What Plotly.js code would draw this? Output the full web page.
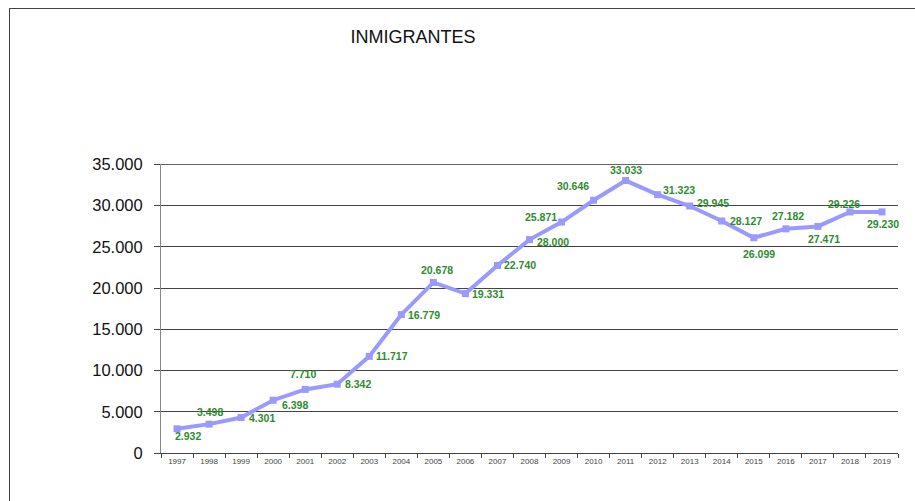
<!DOCTYPE html>
<html>
<head>
<meta charset="utf-8">
<script src="https://cdn.plot.ly/plotly-3.0.1.min.js"></script>
<style>
html,body{margin:0;padding:0;background:#fff;}
#wrap{position:relative;width:915px;height:501px;overflow:hidden;}
#chart{position:absolute;left:0;top:0;width:915px;height:501px;}
#frame{position:absolute;left:9px;top:8px;width:920px;height:510px;border-left:1px solid #444;border-top:1px solid #444;pointer-events:none;}
</style>
</head>
<body>
<div id="wrap"><div id="chart"></div><div id="frame"></div></div>
<script>
const years = ["1997","1998","1999","2000","2001","2002","2003","2004","2005","2006","2007","2008","2009","2010","2011","2012","2013","2014","2015","2016","2017","2018","2019"];
const inmigrantes = [2932,3498,4301,6398,7710,8342,11717,16779,20678,19331,22740,25871,28000,30646,33033,31323,29945,28127,26099,27182,27471,29226,29230];
const valueLabels = ["2.932","3.498","4.301","6.398","7.710","8.342","11.717","16.779","20.678","19.331","22.740","25.871","28.000","30.646","33.033","31.323","29.945","28.127","26.099","27.182","27.471","29.226","29.230"];
const yTicks = [0,5000,10000,15000,20000,25000,30000,35000];
// label offsets in pixels (right, down) relative to each point
const labelDx = [11,1,21,22,-2,21,23,23,4,23,23,11,-9,-21,0,21,23,24,5,2,6,-6,1];
const labelDy = [7,-12,0,5,-15,0,0,0,-12,0,0,-23,20,-14,-11,-5,-3,0,16,-13,13,-8,12];

const annotations = years.map((yr,i)=>({
  x: i, y: inmigrantes[i], xref:'x', yref:'y',
  text: valueLabels[i], showarrow:false,
  xshift: labelDx[i], yshift: -labelDy[i],
  xanchor:'center', yanchor:'middle',
  font:{family:'Liberation Sans, Arial, sans-serif', size:10.5, color:'#2e8b2e', weight:700}
}));

const trace = {
  x: years, y: inmigrantes, type:'scatter', mode:'lines+markers',
  line:{color:'#9999ff', width:4},
  marker:{symbol:'square', size:7, color:'#9999ff'},
  hoverinfo:'skip', cliponaxis:false
};

const layout = {
  width:915, height:501,
  margin:{l:161, r:17, t:164, b:48, pad:0},
  paper_bgcolor:'#fff', plot_bgcolor:'#fff',
  separators: ',.',
  showlegend:false,
  title:{text:'INMIGRANTES', x:413/915, xref:'container', xanchor:'center', y:1-37/501, yref:'container', yanchor:'middle',
    font:{family:'Liberation Sans, Arial, sans-serif', size:18, color:'#111'}},
  xaxis:{type:'category', range:[-0.5,22.5], tickson:'boundaries', ticks:'outside', ticklen:4,
    tickcolor:'#444', showline:true, linecolor:'#444', linewidth:1, showgrid:false, zeroline:false,
    tickfont:{family:'Liberation Sans, Arial, sans-serif', size:8, color:'#444'}, fixedrange:true},
  yaxis:{range:[0,35040], tickvals:yTicks, tickformat:',d', ticks:'outside', ticklen:6, tickcolor:'#444',
    showgrid:true, gridcolor:'#444', gridwidth:1, showline:true, linecolor:'#888', zeroline:false,
    tickfont:{family:'Liberation Sans, Arial, sans-serif', size:16.5, color:'#111'}, ticklabelstandoff:8, fixedrange:true},
  shapes:[{type:'line', xref:'paper', yref:'y', x0:0, x1:1, y0:35000, y1:35000, line:{color:'#444', width:1}, layer:'below'}],
  annotations: annotations
};
Plotly.newPlot('chart',[trace],layout,{staticPlot:true, displayModeBar:false});
</script>
</body>
</html>
